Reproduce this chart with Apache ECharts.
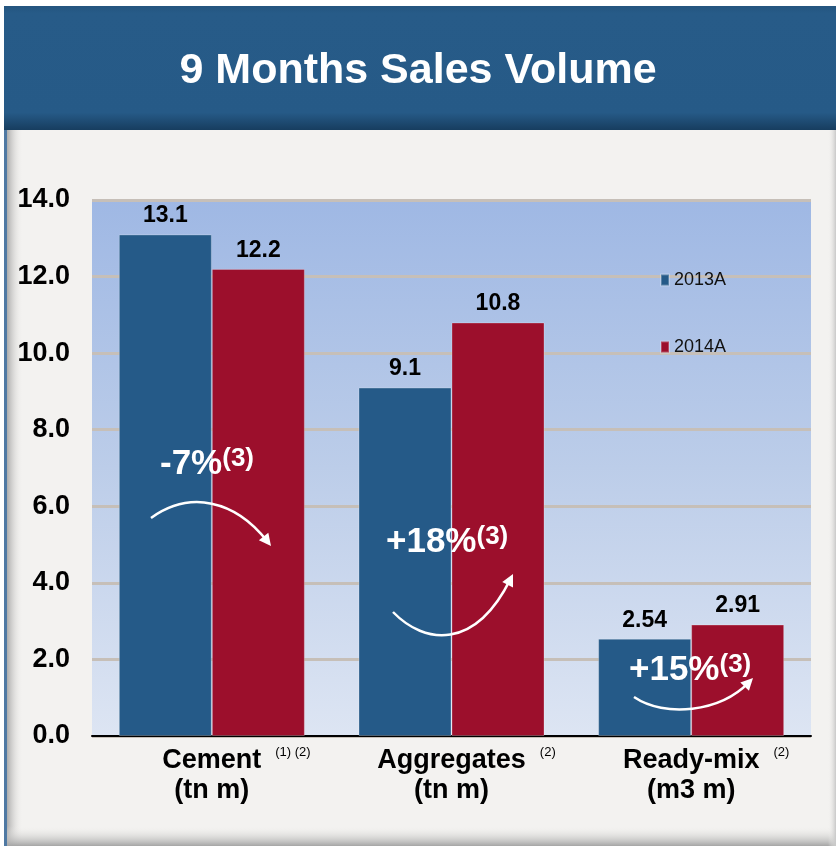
<!DOCTYPE html>
<html>
<head>
<meta charset="utf-8">
<script src="https://cdn.jsdelivr.net/npm/echarts@6/dist/echarts.min.js"></script>
<style>
  html, body { margin: 0; padding: 0; background: #ffffff; }
  #chart { width: 836px; height: 846px; }
</style>
</head>
<body>
<div id="chart"></div>
<script>
// chart values
var categories = ['Cement', 'Aggregates', 'Ready-mix'];
var units = ['(tn m)', '(tn m)', '(m3 m)'];
var notes = ['(1) (2)', '(2)', '(2)'];
var seriesNames = ['2013A', '2014A'];
var sales2013 = [13.1, 9.1, 2.54];
var sales2014 = [12.2, 10.8, 2.91];
var changes = ['-7%', '+18%', '+15%'];
var changeNote = '(3)';

var FONT = '"Liberation Sans", Arial, Helvetica, sans-serif';
var BLUE = '#255a88';
var RED = '#9c0f2c';

var myChart = echarts.init(document.getElementById('chart'));

// width of the little footnote marks, so the word stays centred
var ctx = document.createElement('canvas').getContext('2d');
ctx.font = '13px ' + FONT;
var rich = {
    b: { fontFamily: FONT, fontSize: 27, fontWeight: 'bold', color: '#000', lineHeight: 30 },
    s: { fontFamily: FONT, fontSize: 13, color: '#000', verticalAlign: 'top', lineHeight: 13, padding: [0, 0, 0, 14] }
};
for (var i = 0; i < notes.length; i++) {
    rich['sp' + i] = { width: Math.round(ctx.measureText(notes[i]).width) + 14, lineHeight: 30 };
}

// curved arrows drawn as decoration
function arrow(p0, c1, c2, p1) {
    var dx = p1[0] - c2[0], dy = p1[1] - c2[1];
    var len = Math.sqrt(dx * dx + dy * dy);
    var ux = dx / len, uy = dy / len;
    var bx = p1[0] - ux * 12, by = p1[1] - uy * 12;
    return [
        {
            type: 'bezierCurve', z: 10,
            shape: { x1: p0[0], y1: p0[1], cpx1: c1[0], cpy1: c1[1], cpx2: c2[0], cpy2: c2[1],
                     x2: p1[0] - ux * 6, y2: p1[1] - uy * 6 },
            style: { stroke: '#fff', lineWidth: 2.5, fill: null }
        },
        {
            type: 'polygon', z: 10,
            shape: { points: [p1, [bx - uy * 6, by + ux * 6], [bx + uy * 6, by - ux * 6]] },
            style: { fill: '#fff' }
        }
    ];
}

function changeText(i, x, y) {
    return {
        type: 'text', z: 10, left: x, top: y,
        style: {
            text: '{m|' + changes[i] + '}{n|' + changeNote + '}',
            rich: {
                m: { fontFamily: FONT, fontSize: 35, fontWeight: 'bold', fill: '#fff', lineHeight: 37 },
                n: { fontFamily: FONT, fontSize: 26, fontWeight: 'bold', fill: '#fff', verticalAlign: 'top', lineHeight: 27 }
            }
        }
    };
}

var graphics = [
    { type: 'rect', z: -10, shape: { x: 5, y: 6, width: 831, height: 840 }, style: { fill: '#f3f2f0' } },
    { type: 'rect', z: -9, shape: { x: 5, y: 6, width: 18, height: 840 },
      style: { fill: new echarts.graphic.LinearGradient(0, 0, 1, 0, [
          { offset: 0, color: '#9a9a9a' }, { offset: 1, color: 'rgba(243,242,240,0)' }]) } },
    { type: 'rect', z: -9, shape: { x: 5, y: 826, width: 831, height: 20 },
      style: { fill: new echarts.graphic.LinearGradient(0, 0, 0, 1, [
          { offset: 0, color: 'rgba(243,242,240,0)' }, { offset: 1, color: '#a5a5a5' }]) } },
    { type: 'rect', z: -9, shape: { x: 828, y: 6, width: 8, height: 840 },
      style: { fill: new echarts.graphic.LinearGradient(0, 0, 1, 0, [
          { offset: 0, color: 'rgba(243,242,240,0)' }, { offset: 1, color: '#c8c8c8' }]) } },
    { type: 'rect', z: -8, shape: { x: 4, y: 6, width: 3, height: 840 }, style: { fill: '#4f79a3' } },
    { type: 'rect', z: -8, shape: { x: 4, y: 6, width: 832, height: 124 },
      style: { fill: new echarts.graphic.LinearGradient(0, 0, 0, 1, [
          { offset: 0, color: '#24557f' }, { offset: 0.06, color: '#275b88' },
          { offset: 0.86, color: '#265a87' }, { offset: 1, color: '#173d5f' }]) } },
    changeText(0, 160, 446),
    changeText(1, 386, 524),
    changeText(2, 629, 652)
];
graphics = graphics
    .concat(arrow([151, 518], [190, 490], [235, 500], [271, 546]))
    .concat(arrow([393, 612], [425, 645], [475, 650], [513, 574]))
    .concat(arrow([634, 697], [665, 718], [720, 712], [753, 678]));

var option = {
    backgroundColor: '#ffffff',
    animation: false,
    title: {
        text: '9 Months Sales Volume',
        left: 'center',
        top: 45,
        textStyle: { color: '#fff', fontFamily: FONT, fontSize: 43, fontWeight: 'bold' }
    },
    legend: {
        data: seriesNames,
        orient: 'vertical',
        left: 655,
        top: 264,
        itemGap: 45,
        itemWidth: 8,
        itemHeight: 11,
        icon: 'rect',
        textStyle: { fontFamily: FONT, fontSize: 18, color: '#111', lineHeight: 20, padding: [2, 0, 0, 0] }
    },
    grid: {
        left: 92, right: 25, top: 200, bottom: 110,
        show: true,
        borderWidth: 0,
        backgroundColor: new echarts.graphic.LinearGradient(0, 0, 0, 1, [
            { offset: 0, color: '#9fb8e4' },
            { offset: 0.5, color: '#bccde9' },
            { offset: 1, color: '#dde5f3' }
        ])
    },
    xAxis: {
        type: 'category',
        data: categories,
        axisLine: { lineStyle: { color: '#000', width: 2 } },
        axisTick: { show: false },
        axisLabel: {
            margin: 10,
            interval: 0,
            formatter: function (value, idx) {
                return '{sp' + idx + '| }{b|' + value + '}{s|' + notes[idx] + '}\n{b|' + units[idx] + '}';
            },
            rich: rich
        }
    },
    yAxis: {
        type: 'value',
        min: 0,
        max: 14,
        interval: 2,
        axisLine: { show: false },
        axisTick: { show: false },
        axisLabel: {
            margin: 22,
            fontFamily: FONT, fontSize: 27, fontWeight: 'bold', color: '#000',
            formatter: function (v) { return v.toFixed(1); }
        },
        splitLine: { lineStyle: { color: '#c6bfb8', width: 3 } }
    },
    graphic: graphics,
    series: [
        {
            name: seriesNames[0],
            type: 'bar',
            data: sales2013,
            barWidth: 93,
            barGap: '0%',
            itemStyle: { color: BLUE, borderColor: 'rgba(255,255,255,0.25)', borderWidth: 1 },
            label: { show: true, position: 'top', distance: 7, formatter: '{c}',
                     fontFamily: FONT, fontSize: 23, fontWeight: 'bold', color: '#000' }
        },
        {
            name: seriesNames[1],
            type: 'bar',
            data: sales2014,
            barWidth: 93,
            barGap: '0%',
            itemStyle: { color: RED, borderColor: 'rgba(255,255,255,0.25)', borderWidth: 1 },
            label: { show: true, position: 'top', distance: 7, formatter: '{c}',
                     fontFamily: FONT, fontSize: 23, fontWeight: 'bold', color: '#000' }
        }
    ]
};

myChart.setOption(option);
</script>
</body>
</html>
